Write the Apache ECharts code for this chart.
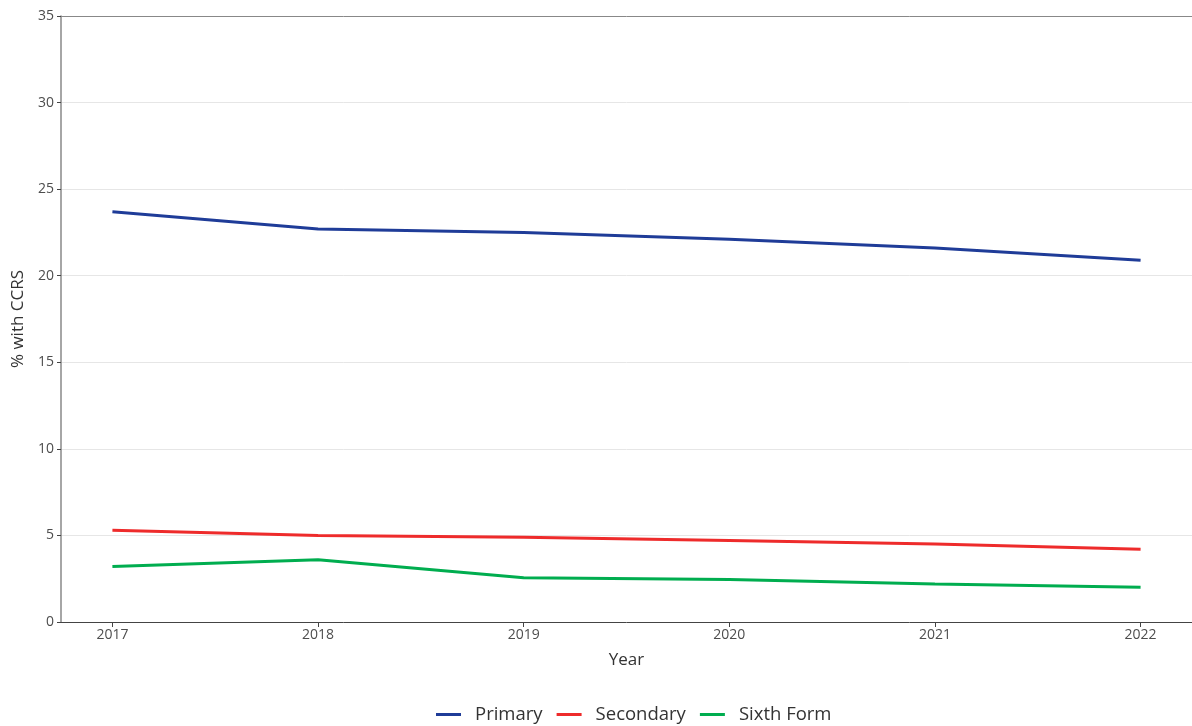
<!DOCTYPE html>
<html><head><meta charset="utf-8">
<script src="https://cdn.jsdelivr.net/npm/echarts@6/dist/echarts.min.js"></script>
<style>html,body{margin:0;padding:0;background:#fff}#c{width:1192px;height:726px}</style>
</head><body><div id="c"></div>
<script>
const years = [2017, 2018, 2019, 2020, 2021, 2022];
const primary = [23.7, 22.7, 22.5, 22.1, 21.6, 20.9];
const secondary = [5.3, 5.0, 4.9, 4.7, 4.5, 4.2];
const sixthForm = [3.2, 3.6, 2.55, 2.45, 2.2, 2.0];
const yTicks = [0, 5, 10, 15, 20, 25, 30, 35];
const font = '"Open Sans", "Noto Sans", sans-serif';
const pair = arr => years.map((y, i) => [y, arr[i]]);
const chart = echarts.init(document.getElementById('c'));
chart.setOption({
  animation: false,
  grid: {left: 61, right: 0, top: 16, bottom: 104, containLabel: false, outerBoundsMode: 'none'},
  legend: {
    bottom: -3, left: 431, itemWidth: 25, itemHeight: 3, itemGap: 14,
    icon: 'rect',
    textStyle: {fontFamily: font, fontSize: 18.5, color: '#333', padding: [0, 0, 0, 9]},
    data: ['Primary', 'Secondary', 'Sixth Form']
  },
  xAxis: [{
    type: 'value', min: 2016.75, max: 2022.25,
    name: 'Year', nameLocation: 'middle', nameGap: 30,
    nameTextStyle: {fontFamily: font, fontSize: 17, color: '#333'},
    axisLine: {show: true, lineStyle: {color: '#444', width: 1}},
    axisTick: {show: true, length: 5, lineStyle: {color: '#444'}, customValues: years},
    axisLabel: {fontFamily: font, fontSize: 14, color: '#4d4d4d', margin: 6, customValues: years, formatter: v => String(v)},
    splitLine: {show: false}
  }, {
    type: 'value', position: 'top', min: 2016.75, max: 2022.25,
    axisLine: {show: true, lineStyle: {color: '#888', width: 1}},
    axisTick: {show: false}, axisLabel: {show: false}, splitLine: {show: false}
  }],
  yAxis: {
    type: 'value', min: 0, max: 35, interval: 5,
    name: '% with CCRS', nameLocation: 'middle', nameGap: 34, nameRotate: 90,
    nameTextStyle: {fontFamily: font, fontSize: 17, color: '#333'},
    axisLine: {show: true, lineStyle: {color: '#888', width: 1.5}},
    axisTick: {show: true, length: 4, lineStyle: {color: '#444'}},
    axisLabel: {fontFamily: font, fontSize: 14, color: '#4d4d4d', margin: 7},
    splitLine: {show: true, lineStyle: {color: '#e6e6e6', width: 1}}
  },
  series: [
    {name: 'Primary', type: 'line', data: pair(primary), showSymbol: false, lineStyle: {color: '#1f3c98', width: 3}, itemStyle: {color: '#1f3c98'}},
    {name: 'Secondary', type: 'line', data: pair(secondary), showSymbol: false, lineStyle: {color: '#ee2b2b', width: 3}, itemStyle: {color: '#ee2b2b'}},
    {name: 'Sixth Form', type: 'line', data: pair(sixthForm), showSymbol: false, lineStyle: {color: '#00ad4f', width: 3}, itemStyle: {color: '#00ad4f'}}
  ]
});
</script></body></html>
